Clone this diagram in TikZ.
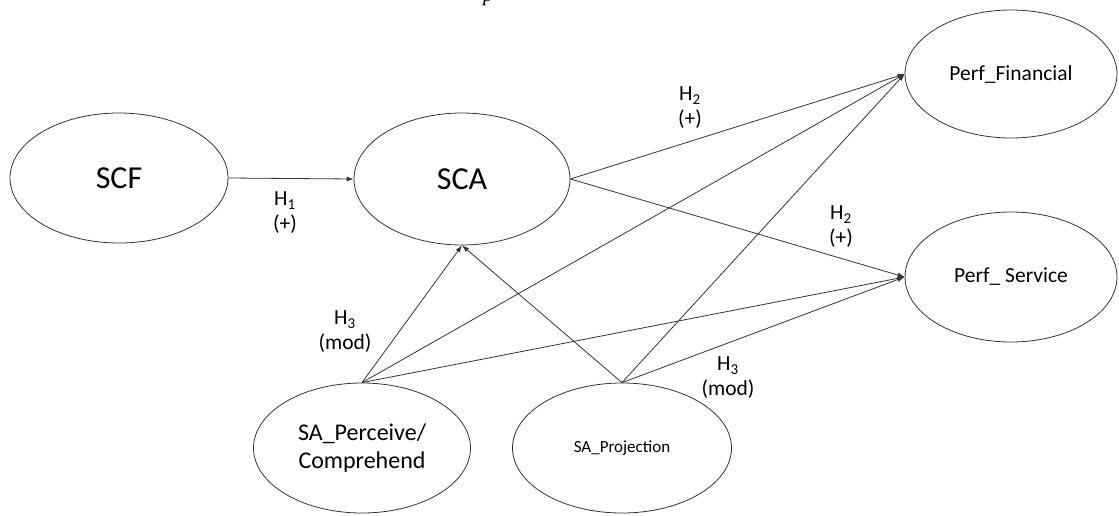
\documentclass[tikz,border=0pt]{standalone}
\usepackage{fontspec}
\setmainfont{Carlito}
\newfontfamily\capfont{Liberation Serif}
\usetikzlibrary{shapes.geometric,arrows.meta}
\tikzset{
  var/.style={draw=black!80, line width=0.8pt, ellipse, inner sep=0pt, align=center},
  link/.style={draw=black!80, line width=0.8pt, -{Latex[length=7pt,width=5pt]}},
  lab/.style={align=center, inner sep=0pt, font=\fontsize{21.5}{25}\selectfont}
}
\begin{document}
\begin{tikzpicture}[x=1pt,y=-1pt]
\useasboundingbox (0,0) rectangle (1119,515);
\clip (0,0) rectangle (1119,515);
\node[anchor=base, inner sep=0pt, font=\capfont\itshape\fontsize{20}{24}\selectfont] (cap) at (488,1) {p};
\node[var, minimum width=218pt, minimum height=130pt, font=\fontsize{32}{36}\selectfont] (scf) at (119,178) {SCF};
\node[var, minimum width=216pt, minimum height=132pt, font=\fontsize{32}{36}\selectfont] (sca) at (462,179) {SCA};
\node[var, minimum width=212pt, minimum height=128pt, font=\fontsize{21.5}{25}\selectfont] (pf) at (1011,74) {Perf\_Financial};
\node[var, minimum width=212pt, minimum height=130pt, font=\fontsize{21.5}{25}\selectfont] (ps) at (1011,277) {Perf\_ Service};
\node[var, minimum width=217pt, minimum height=130pt, font=\fontsize{24}{28}\selectfont] (sap) at (362,448) {SA\_Perceive/\\Comprehend};
\node[var, minimum width=219pt, minimum height=130pt, font=\fontsize{17}{20}\selectfont] (sapr) at (622,448) {SA\_Projection};

\draw[link] (scf.east) -- (sca.west);
\draw[link] (sca.east) -- (pf.west);
\draw[link] (sca.east) -- (ps.west);
\draw[link] (sap.north) -- (sca.south);
\draw[link] (sap.north) -- (pf.west);
\draw[link] (sap.north) -- (ps.west);
\draw[link] (sapr.north) -- (sca.south);
\draw[link] (sapr.north) -- (pf.west);
\draw[link] (sapr.north) -- (ps.west);

\node[lab] (h1) at (285,213) {H\textsubscript{1}\\(+)};
\node[lab] (h2a) at (690,108) {H\textsubscript{2}\\(+)};
\node[lab] (h2b) at (841,227) {H\textsubscript{2}\\(+)};
\node[lab] (h3a) at (345,332) {H\textsubscript{3}\\(mod)};
\node[lab] (h3b) at (728,378) {H\textsubscript{3}\\(mod)};
\end{tikzpicture}
\end{document}
